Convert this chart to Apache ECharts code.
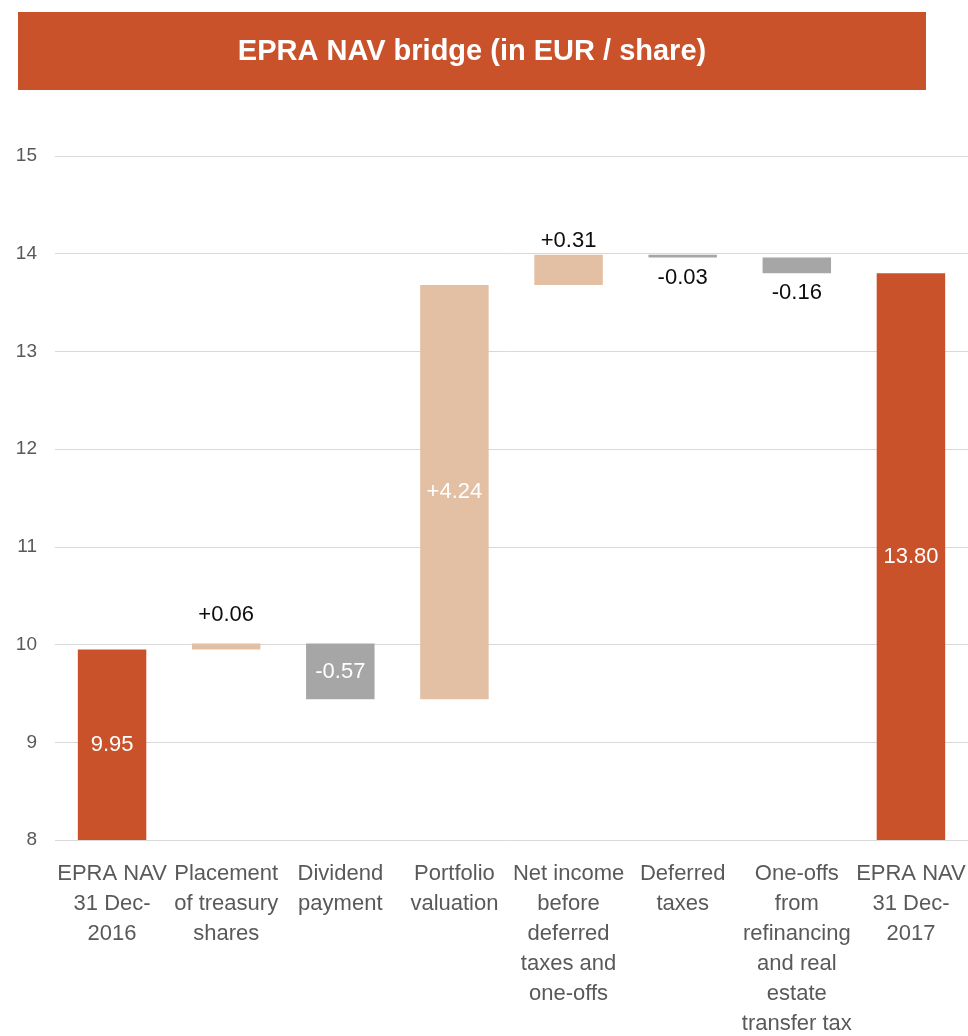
<!DOCTYPE html>
<html lang="en">
<head>
    <meta charset="UTF-8">
    <title>EPRA NAV bridge</title>
    <script type="text/javascript" src="https://cdn.jsdelivr.net/npm/echarts@6/dist/echarts.min.js"></script>
    <style>
        html, body { margin: 0; padding: 0; background: #fff; }
    </style>
</head>
<body>
<div id="main" style="width: 968px; height: 1036px;"></div>
<script type="text/javascript">
    "use strict"
    var FONT = "'Liberation Sans Narrow', 'Arial Narrow', 'Liberation Sans', sans-serif";

    var categories = [
        'EPRA NAV\n31 Dec-\n2016',
        'Placement\nof treasury\nshares',
        'Dividend\npayment',
        'Portfolio\nvaluation',
        'Net income\nbefore\ndeferred\ntaxes and\none-offs',
        'Deferred\ntaxes',
        'One-offs\nfrom\nrefinancing\nand real\nestate\ntransfer tax',
        'EPRA NAV\n31 Dec-\n2017'
    ];
    var startValue = 9.95;
    var deltas = [0.06, -0.57, 4.24, 0.31, -0.03, -0.16];
    var endValue = 13.80;
    // where each delta label goes: 'top', 'bottom' or 'inside'
    var labelPlaces = ['top', 'inside', 'inside', 'top', 'bottom', 'bottom'];
    var labelGaps = [18, 0, 0, 3, 9, 9];

    var ORANGE = '#C9522A', PEACH = '#E3BFA3', GREY = '#A6A6A6';

    // build stacked pieces
    var base = [0], totals = [startValue], ups = ['-'], downs = ['-'];
    var running = startValue;
    deltas.forEach(function (d, i) {
        var next = Math.round((running + d) * 100) / 100;
        var place = labelPlaces[i];
        var lbl = {
            show: true,
            position: place,
            distance: labelGaps[i],
            color: place === 'inside' ? '#fff' : '#0d0d0d'
        };
        base.push(Math.min(running, next));
        totals.push('-');
        if (d >= 0) {
            ups.push({ value: d, label: lbl });
            downs.push('-');
        } else {
            ups.push('-');
            downs.push({ value: -d, label: lbl });
        }
        running = next;
    });
    base.push(0);
    totals.push(endValue);
    ups.push('-');
    downs.push('-');

    function fmtDelta(sign) {
        return function (p) {
            return sign + p.value.toFixed(2);
        };
    }

    var myChart = echarts.init(document.getElementById('main'));
    var option = {
        animation: false,
        textStyle: { fontFamily: FONT },
        graphic: [{
            type: 'rect',
            left: 18,
            top: 12,
            shape: { width: 908, height: 78 },
            style: { fill: ORANGE }
        }, {
            type: 'text',
            x: 472,
            y: 52,
            style: {
                text: 'EPRA NAV bridge (in EUR / share)',
                fill: '#fff',
                font: 'bold 29px ' + FONT,
                align: 'center',
                verticalAlign: 'middle'
            }
        }],
        grid: { left: 55, right: 0, top: 156, bottom: 196, outerBoundsMode: 'none' },
        xAxis: {
            type: 'category',
            data: categories,
            axisLine: { show: false },
            axisTick: { show: false },
            axisLabel: {
                interval: 0,
                color: '#595959',
                fontSize: 22,
                lineHeight: 30,
                margin: 19,
                fontFamily: FONT
            }
        },
        yAxis: {
            type: 'value',
            min: 8,
            max: 15,
            interval: 1,
            axisLine: { show: false },
            axisTick: { show: false },
            axisLabel: { color: '#595959', fontSize: 19, margin: 18, fontFamily: FONT },
            splitLine: { lineStyle: { color: '#d9d9d9', width: 1 } }
        },
        series: [{
            name: 'base',
            type: 'bar',
            stack: 'w',
            barWidth: '60%',
            itemStyle: { color: 'transparent' },
            data: base,
            silent: true
        }, {
            name: 'total',
            type: 'bar',
            stack: 'w',
            itemStyle: { color: ORANGE },
            label: {
                show: true, position: 'inside', color: '#fff', fontSize: 22,
                formatter: function (p) { return p.value.toFixed(2); }
            },
            data: totals
        }, {
            name: 'increase',
            type: 'bar',
            stack: 'w',
            itemStyle: { color: PEACH },
            label: { show: true, fontSize: 22, formatter: fmtDelta('+') },
            data: ups
        }, {
            name: 'decrease',
            type: 'bar',
            stack: 'w',
            itemStyle: { color: GREY },
            label: { show: true, fontSize: 22, formatter: fmtDelta('-') },
            data: downs
        }]
    };
    myChart.setOption(option);
</script>
</body>
</html>
